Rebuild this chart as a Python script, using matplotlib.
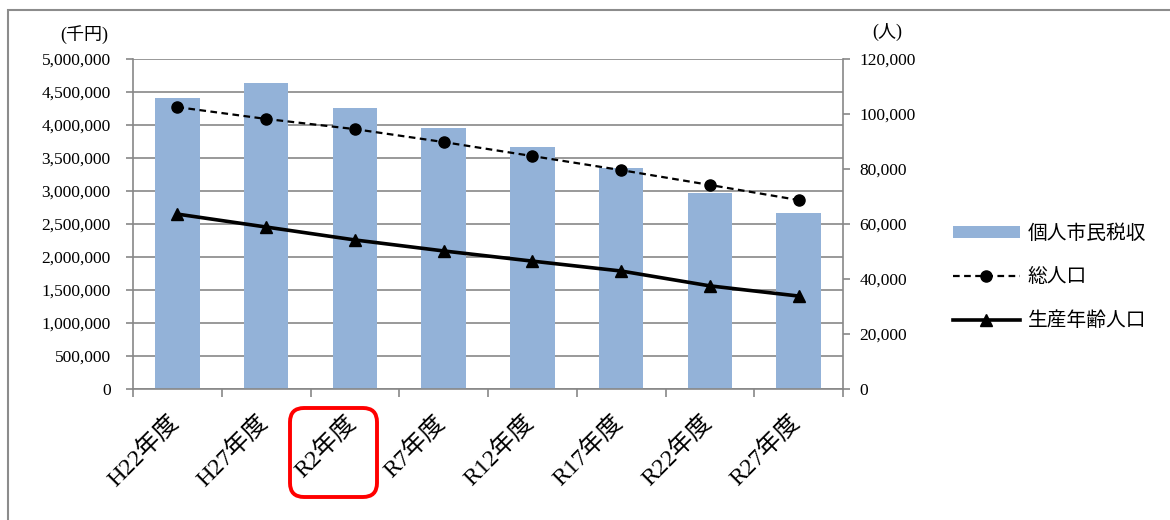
import matplotlib
matplotlib.use("Agg")
import matplotlib.pyplot as plt
import matplotlib.transforms as mtransforms
from matplotlib.patches import Rectangle, FancyBboxPatch
from matplotlib.ticker import FuncFormatter, MultipleLocator, FixedLocator

plt.rcParams['font.family'] = ['Liberation Serif', 'Noto Sans CJK JP']

years = ["H22年度", "H27年度", "R2年度", "R7年度", "R12年度", "R17年度", "R22年度", "R27年度"]
tax_revenue = [4410000, 4635000, 4255000, 3955000, 3665000, 3350000, 2970000, 2665000]  # 千円
total_pop = [102500, 98200, 94500, 89800, 84700, 79600, 74200, 68700]  # 人
working_pop = [63600, 58900, 54200, 50200, 46500, 42900, 37500, 33800]  # 人

GRID = "#878787"
BAR = "#93B2D8"

fig = plt.figure(figsize=(11.7, 5.2), dpi=100)
ax = fig.add_axes([133 / 1170, 1 - 389 / 520, 710 / 1170, 330 / 520])
ax2 = ax.twinx()

x = list(range(len(years)))
bars = ax.bar(x, tax_revenue, width=0.5, color=BAR, zorder=2, label="個人市民税収")
ax.set_ylim(0, 5000000)
ax.set_xlim(-0.5, len(years) - 0.5)
ax.yaxis.set_major_locator(MultipleLocator(500000))
ax.yaxis.set_major_formatter(FuncFormatter(lambda v, p: f"{int(v):,}"))
ax.grid(axis="y", color=GRID, linewidth=1.2, zorder=0)
ax.set_axisbelow(True)

l1, = ax2.plot(x, total_pop, color="black", linestyle=(0, (3, 2)), linewidth=1.6,
               marker="o", markersize=8, label="総人口")
l2, = ax2.plot(x, working_pop, color="black", linestyle="-", linewidth=2.6,
               marker="^", markersize=9, label="生産年齢人口")
ax2.set_ylim(0, 120000)
ax2.yaxis.set_major_locator(MultipleLocator(20000))
ax2.yaxis.set_major_formatter(FuncFormatter(lambda v, p: f"{int(v):,}"))

for a in (ax, ax2):
    for s in a.spines.values():
        s.set_visible(False)
for a, side in ((ax, "left"), (ax, "bottom"), (ax2, "right")):
    a.spines[side].set_visible(True)
    a.spines[side].set_color(GRID)
    a.spines[side].set_linewidth(1.2)

ax.tick_params(axis="y", length=5, width=1.2, color=GRID, labelsize=12.5, pad=11)
ax2.tick_params(axis="y", length=5, width=1.2, color=GRID, labelsize=12.5, pad=7)

# category boundary ticks on the x axis, labels at the centres
ax.xaxis.set_major_locator(FixedLocator(x))
ax.set_xticklabels(years)
ax.xaxis.set_minor_locator(FixedLocator([i - 0.5 for i in range(len(years) + 1)]))
ax.tick_params(axis="x", which="major", length=0, pad=16)
ax.tick_params(axis="x", which="minor", length=6, width=1.2, color=GRID)
offset = mtransforms.ScaledTranslation(-10 / 100, 0, fig.dpi_scale_trans)
for lab in ax.get_xticklabels():
    lab.set_rotation(45)
    lab.set_ha("right")
    lab.set_va("top")
    lab.set_rotation_mode("anchor")
    lab.set_fontsize(17.5)
    lab.set_transform(lab.get_transform() + offset)

fig.text(84 / 1170, 1 - 35 / 520, "(千円)", fontsize=13, ha="center", va="center")
fig.text(887 / 1170, 1 - 32 / 520, "(人)", fontsize=13, ha="center", va="center")

handles = [bars, l1, l2]
fig.legend(handles, ["個人市民税収", "総人口", "生産年齢人口"], loc="center left",
           bbox_to_anchor=(935 / 1170, 1 - 278 / 520), frameon=False,
           fontsize=14.2, handlelength=3.4, handleheight=0.55, labelspacing=1.25,
           handletextpad=0.4)

# outer chart frame
fig.patches.append(Rectangle((8 / 1170, -0.1), 1.2, 1 - 10 / 520 + 0.1,
                             transform=fig.transFigure, fill=False,
                             edgecolor="#8c8c8c", linewidth=1.5))
# highlight box around R2
fig.patches.append(FancyBboxPatch((290 / 1170, 1 - 497 / 520), 87 / 1170, 89 / 520,
                                  boxstyle="round,pad=0,rounding_size=0.012",
                                  transform=fig.transFigure, fill=False,
                                  edgecolor="#ff0000", linewidth=2.8,
                                  mutation_aspect=1170 / 520))

fig.savefig("out.png", dpi=100)
